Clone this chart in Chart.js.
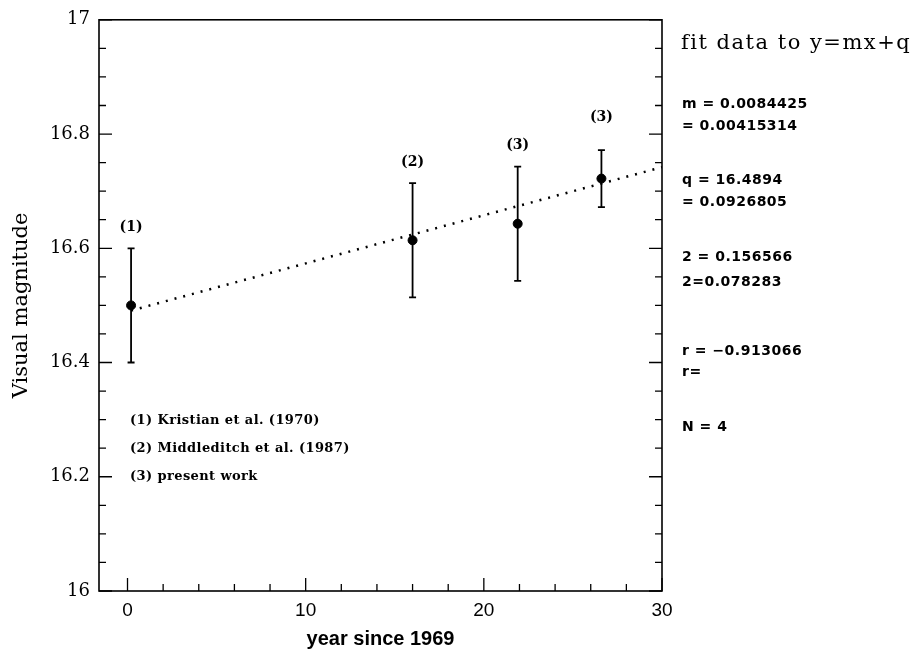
<!DOCTYPE html>
<html>
<head>
<meta charset="utf-8">
<script src="https://cdn.jsdelivr.net/npm/chart.js@4"></script>
<style>
  html, body { margin: 0; background: #fff; }
  #wrap { width: 924px; height: 656px; position: relative; }
</style>
</head>
<body>
<div id="wrap"><canvas id="myChart"></canvas></div>
<script>
// data
const years = [0.2, 16.0, 21.9, 26.6];
const mags = [16.5, 16.614, 16.643, 16.722];
const errs = [0.1, 0.1, 0.1, 0.05];
const refTags = ['(1)', '(2)', '(3)', '(3)'];
const tagMags = [16.636, 16.75, 16.781, 16.83];

// fitted line y = m x + q (end points)
const fitYears = [0.2, 30];
const fitMags = [16.491, 16.742];

const yTicks = [16, 16.2, 16.4, 16.6, 16.8, 17];
const xTicks = [0, 10, 20, 30];

const refNotes = ['(1) Kristian et al. (1970)', '(2) Middleditch et al. (1987)', '(3) present work'];
const fitNotes = [
  ['m = 0.0084425', 104], ['= 0.00415314', 126],
  ['q = 16.4894', 180], ['= 0.0926805', 202],
  ['2 = 0.156566', 257], ['2=0.078283', 282],
  ['r = \u22120.913066', 351], ['r=', 372],
  ['N = 4', 427]
];

// frame, inward ticks, error bars and text
const extras = {
  id: 'extras',
  afterDatasetsDraw(chart) {
    const {ctx, chartArea: a, scales: {x, y}} = chart;
    ctx.save();
    ctx.strokeStyle = '#000';
    ctx.fillStyle = '#000';

    // error bars
    ctx.lineWidth = 1.8;
    years.forEach((yr, i) => {
      const px = x.getPixelForValue(yr);
      const top = y.getPixelForValue(mags[i] + errs[i]);
      const bot = y.getPixelForValue(mags[i] - errs[i]);
      ctx.beginPath();
      ctx.moveTo(px, top); ctx.lineTo(px, bot);
      ctx.moveTo(px - 3.5, top); ctx.lineTo(px + 3.5, top);
      ctx.moveTo(px - 3.5, bot); ctx.lineTo(px + 3.5, bot);
      ctx.stroke();
    });

    // tags above points
    ctx.font = 'bold 14px "DejaVu Serif"';
    ctx.textAlign = 'center';
    ctx.textBaseline = 'middle';
    refTags.forEach((t, i) => {
      ctx.fillText(t, x.getPixelForValue(years[i]), y.getPixelForValue(tagMags[i]));
    });

    // frame
    ctx.lineWidth = 1.6;
    ctx.strokeRect(a.left, a.top, a.right - a.left, a.bottom - a.top);

    // y ticks every 0.05, left and right
    ctx.lineWidth = 1.3;
    for (let i = 0; i <= 20; i++) {
      const py = y.getPixelForValue(16 + i * 0.05);
      const len = i % 4 === 0 ? 13 : 7;
      ctx.beginPath();
      ctx.moveTo(a.left, py); ctx.lineTo(a.left + len, py);
      ctx.moveTo(a.right, py); ctx.lineTo(a.right - len, py);
      ctx.stroke();
    }
    // x ticks every 2
    for (let i = 0; i <= 15; i++) {
      const px = x.getPixelForValue(i * 2);
      const len = i % 5 === 0 ? 13 : 7;
      ctx.beginPath();
      ctx.moveTo(px, a.bottom); ctx.lineTo(px, a.bottom - len);
      ctx.stroke();
    }

    // legend notes
    ctx.textAlign = 'left';
    ctx.letterSpacing = '0.4px';
    ctx.font = 'bold 13px "DejaVu Serif"';
    refNotes.forEach((t, i) => ctx.fillText(t, 130, 421 + i * 28));

    // fit results
    ctx.letterSpacing = '1.5px';
    ctx.font = '21px "DejaVu Serif"';
    ctx.fillText('fit data to y=mx+q', 681, 44);
    ctx.letterSpacing = '0.5px';
    ctx.font = 'bold 14px "DejaVu Sans"';
    fitNotes.forEach(([t, py]) => ctx.fillText(t, 682, py));

    ctx.restore();
  }
};

new Chart(document.getElementById('myChart'), {
  type: 'scatter',
  data: {
    datasets: [
      {
        label: 'fit',
        type: 'line',
        data: fitYears.map((v, i) => ({x: v, y: fitMags[i]})),
        borderColor: '#000',
        borderWidth: 2.5,
        borderDash: [2, 7],
        pointRadius: 0,
        fill: false
      },
      {
        label: 'data',
        data: years.map((v, i) => ({x: v, y: mags[i]})),
        backgroundColor: '#000',
        borderColor: '#000',
        pointRadius: 4.5
      }
    ]
  },
  options: {
    responsive: true,
    maintainAspectRatio: false,
    animation: false,
    devicePixelRatio: 1,
    layout: { padding: { top: 16, right: 262, left: 0, bottom: 0 } },
    plugins: { legend: { display: false }, tooltip: { enabled: false } },
    scales: {
      x: {
        type: 'linear',
        min: -1.6,
        max: 30,
        grid: { display: false, drawTicks: false },
        border: { display: false },
        afterBuildTicks: s => { s.ticks = xTicks.map(v => ({value: v})); },
        afterFit: s => { s.height = 65; },
        ticks: {
          color: '#000',
          padding: 8,
          maxRotation: 0,
          font: { family: '"Liberation Sans"', size: 19 }
        },
        title: {
          display: true,
          text: 'year since 1969',
          color: '#000',
          padding: { top: 0, bottom: 5 },
          font: { family: '"Liberation Sans"', size: 20, weight: 'bold' }
        }
      },
      y: {
        min: 16,
        max: 17,
        grid: { display: false, drawTicks: false },
        border: { display: false },
        afterBuildTicks: s => { s.ticks = yTicks.map(v => ({value: v})); },
        afterFit: s => { s.width = 99; },
        ticks: {
          color: '#000',
          padding: 9,
          font: { family: '"DejaVu Serif"', size: 18 },
          callback: v => String(Math.round(v * 10) / 10)
        },
        title: {
          display: true,
          text: 'Visual magnitude',
          color: '#000',
          padding: { top: 9, bottom: 0 },
          font: { family: '"DejaVu Serif"', size: 21 }
        }
      }
    }
  },
  plugins: [extras]
});
</script>
</body>
</html>
